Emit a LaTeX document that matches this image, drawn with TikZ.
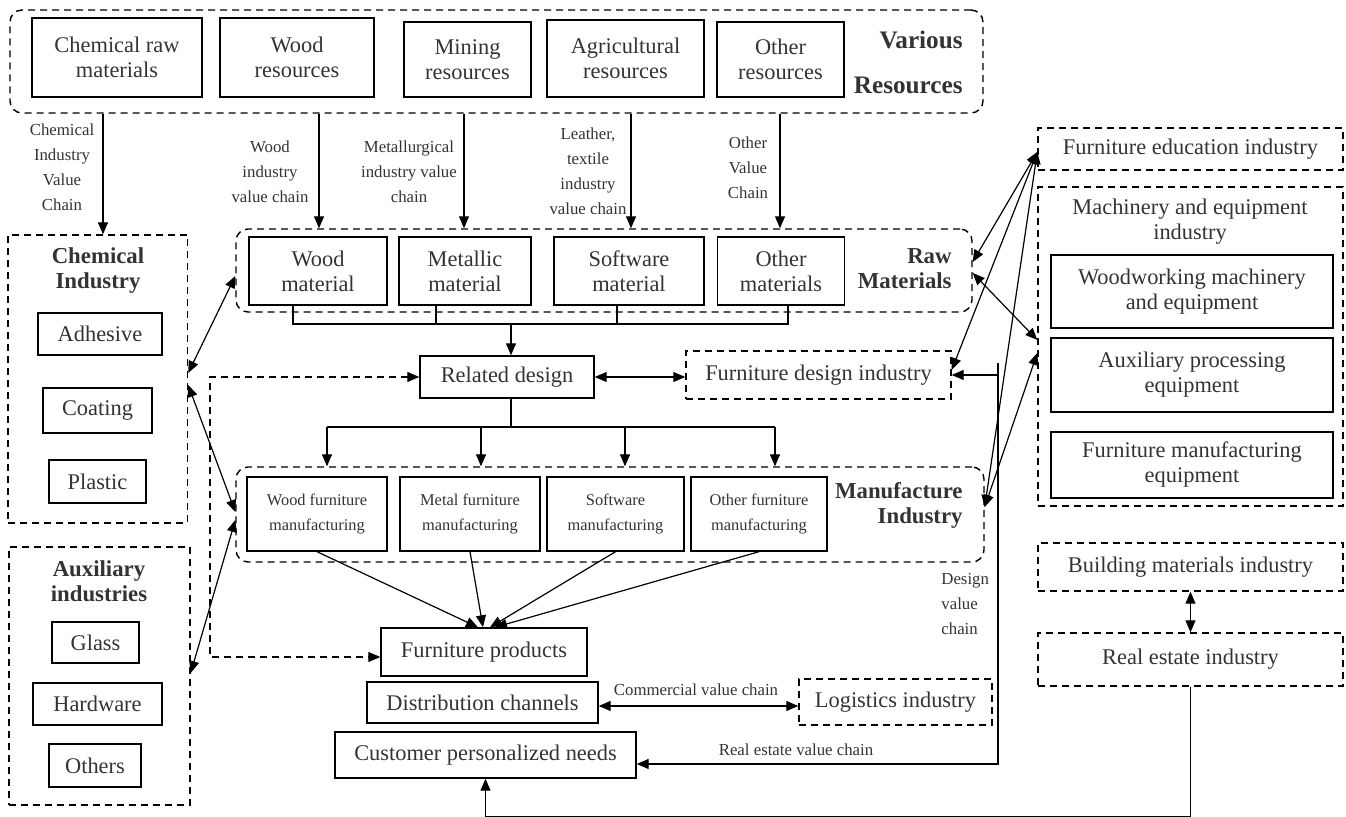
\documentclass[tikz,border=0pt]{standalone}
\usepackage{fontspec}
\setmainfont{Liberation Serif}
\usetikzlibrary{arrows.meta}

\begin{document}
\begin{tikzpicture}[x=0.5pt,y=-0.5pt,
	box/.style={draw, line width=0.7pt, align=center, inner sep=0pt, font=\fontsize{11.2}{12.5}\selectfont},
	sbox/.style={box, font=\fontsize{8.2}{12.5}\selectfont},
	dbox/.style={box, dash pattern=on 3.5pt off 2.5pt},
	group/.style={draw, line width=0.7pt, dash pattern=on 3.5pt off 2.5pt, rounded corners=6pt, inner sep=0pt},
	title/.style={font=\fontsize{11.4}{12.5}\selectfont\bfseries, inner sep=0pt},
	chain/.style={font=\fontsize{8.4}{12.5}\selectfont, align=center, inner sep=0pt},
	arr/.style={-{Triangle[length=6pt,width=5pt]}, line width=0.6pt},
	darr/.style={{Triangle[length=6pt,width=5pt]}-{Triangle[length=6pt,width=5pt]}, line width=0.6pt},
	every node/.style={text=black!80}]
	\useasboundingbox (0,0) rectangle (1346,817);

	% Various resources
	\node[group, minimum width=486.5pt, minimum height=51.5pt] (vres) at (496.5,61.5) {};
	\node[box, minimum width=85pt, minimum height=39.5pt] (chemraw) at (117,57.5) {Chemical raw\\materials};
	\node[box, minimum width=77pt, minimum height=39.5pt] (woodres) at (297,57.5) {Wood\\resources};
	\node[box, minimum width=63.5pt, minimum height=37.5pt] (minres) at (467.5,59.5) {Mining\\resources};
	\node[box, minimum width=78.5pt, minimum height=38.5pt] (agrires) at (625.5,58.5) {Agricultural\\resources};
	\node[box, minimum width=63.5pt, minimum height=37.5pt] (othres) at (780.5,59.5) {Other\\resources};
	\node[title, anchor=east, align=right, font=\fontsize{12.6}{22.5}\selectfont\bfseries] (vrestitle) at (963,62.5) {Various\\Resources};

	% Raw materials
	\node[group, minimum width=368pt, minimum height=41.5pt] (rawmat) at (604,270.5) {};
	\node[box, minimum width=69pt, minimum height=34pt] (woodmat) at (318,271) {Wood\\material};
	\node[box, minimum width=66pt, minimum height=34pt] (metmat) at (465,271) {Metallic\\material};
	\node[box, minimum width=75pt, minimum height=34pt] (softmat) at (629,271) {Software\\material};
	\node[box, minimum width=63.5pt, minimum height=34pt] (othmat) at (781,271) {Other\\materials};
	\node[title, anchor=east, align=right] (rawtitle) at (952,269) {Raw\\Materials};

	% Design
	\node[box, minimum width=87pt, minimum height=21pt] (reldes) at (507,377) {Related design};
	\node[dbox, minimum width=132.5pt, minimum height=24pt] (fdes) at (818.5,375) {Furniture design industry};

	% Manufacture industry
	\node[group, minimum width=374pt, minimum height=47.5pt] (manuf) at (610,514.5) {};
	\node[sbox, minimum width=70pt, minimum height=37pt] (woodfm) at (317,514) {Wood furniture\\manufacturing};
	\node[sbox, minimum width=70pt, minimum height=37pt] (metalfm) at (470,514) {Metal furniture\\manufacturing};
	\node[sbox, minimum width=68.5pt, minimum height=37pt] (softfm) at (615.5,514) {Software\\manufacturing};
	\node[sbox, minimum width=68pt, minimum height=37pt] (otherfm) at (759,514) {Other furniture\\manufacturing};
	\node[title, anchor=east, align=right] (manuftitle) at (963,505.5) {Manufacture\\Industry};

	% Chemical industry
	\node[dbox, minimum width=89.75pt, minimum height=144pt] (chemind) at (97.75,379) {};
	\node[title, align=center] (chemtitle) at (98,270.5) {Chemical\\Industry};
	\node[box, minimum width=62pt, minimum height=21pt] (adhesive) at (100,334) {Adhesive};
	\node[box, minimum width=54.5pt, minimum height=22.5pt] (coating) at (97.5,410.5) {Coating};
	\node[box, minimum width=48.5pt, minimum height=21.5pt] (plastic) at (97.5,481.5) {Plastic};

	% Auxiliary industries
	\node[dbox, minimum width=90.5pt, minimum height=129pt] (auxind) at (99.5,676) {};
	\node[title, align=center] (auxtitle) at (99,581.5) {Auxiliary\\industries};
	\node[box, minimum width=43.5pt, minimum height=20.5pt] (glass) at (95.5,642.5) {Glass};
	\node[box, minimum width=64.5pt, minimum height=21pt] (hardware) at (97.5,704) {Hardware};
	\node[box, minimum width=46pt, minimum height=21.5pt] (others) at (95,765.5) {Others};

	% Products and market
	\node[box, minimum width=103pt, minimum height=24pt] (furnprod) at (484,652) {Furniture products};
	\node[box, minimum width=115.5pt, minimum height=20.5pt] (distr) at (482.5,702.5) {Distribution channels};
	\node[box, minimum width=150.5pt, minimum height=23pt] (cust) at (485.5,755) {Customer personalized needs};
	\node[dbox, minimum width=96.5pt, minimum height=23pt] (logi) at (895.5,702) {Logistics industry};

	% Related industries on the right
	\node[dbox, minimum width=152.5pt, minimum height=21pt] (educ) at (1190.5,149) {Furniture education industry};
	\node[dbox, minimum width=152.5pt, minimum height=159.5pt] (mach) at (1190.5,346.5) {};
	\node[align=center, font=\fontsize{11.2}{12.5}\selectfont, inner sep=0pt] (machtitle) at (1190,222) {Machinery and equipment\\industry};
	\node[box, minimum width=141pt, minimum height=36.5pt] (woodmach) at (1192,291.5) {Woodworking machinery\\and equipment};
	\node[box, minimum width=141pt, minimum height=37pt] (auxproc) at (1192,375) {Auxiliary processing\\equipment};
	\node[box, minimum width=141pt, minimum height=33pt] (furnequip) at (1192,465) {Furniture manufacturing\\equipment};
	\node[dbox, minimum width=152.5pt, minimum height=24pt] (build) at (1190.5,567) {Building materials industry};
	\node[dbox, minimum width=152.5pt, minimum height=26.5pt] (realest) at (1190.5,659.5) {Real estate industry};

	% Value chains from the resources
	\draw[arr] (vres.south -| 103,0) -- (chemind.north -| 103,0);
	\draw[arr] (vres.south -| 319,0) -- (rawmat.north -| 319,0);
	\draw[arr] (vres.south -| 464,0) -- (rawmat.north -| 464,0);
	\draw[arr] (vres.south -| 631,0) -- (rawmat.north -| 631,0);
	\draw[arr] (vres.south -| 780,0) -- (rawmat.north -| 780,0);
	\node[chain] at (62,167) {Chemical\\Industry\\Value\\Chain};
	\node[chain] at (270,172) {Wood\\industry\\value chain};
	\node[chain] at (409,172) {Metallurgical\\industry value\\chain};
	\node[chain] at (588,171.5) {Leather,\\textile\\industry\\value chain};
	\node[chain] at (748,167.5) {Other\\Value\\Chain};

	% Materials to design
	\coordinate (bus) at (511,324);
	\draw[line width=0.6pt] (woodmat.south -| 293,0) -- (bus -| 293,0) -- (bus -| 788,0) -- (othmat.south -| 788,0);
	\draw[line width=0.6pt] (metmat.south -| 436,0) -- (bus -| 436,0);
	\draw[line width=0.6pt] (softmat.south -| 617,0) -- (bus -| 617,0);
	\draw[arr] (bus) -- (reldes.north -| bus);
	\draw[darr] (reldes.east) -- (fdes.west |- reldes.east);

	% Design to manufacture
	\coordinate (bus2) at (511,427);
	\draw[line width=0.6pt] (reldes.south -| bus2) -- (bus2);
	\draw[line width=0.6pt] (bus2 -| 327,0) -- (bus2 -| 775,0);
	\foreach \x in {327,481,625,775}
		\draw[arr] (bus2 -| \x,0) -- (manuf.north -| \x,0);

	% Manufacture to products
	\draw[arr] (woodfm.south) -- (furnprod.north -| 478,0);
	\draw[arr] (metalfm.south) -- (furnprod.north -| 483,0);
	\draw[arr] (softfm.south) -- (furnprod.north -| 490,0);
	\draw[arr] (otherfm.south) -- (furnprod.north -| 495,0);

	% Left side links
	\coordinate (dl) at (210,657);
	\draw[darr, dash pattern=on 3.5pt off 2.5pt] (reldes.west) -| (dl) -- (furnprod.west |- dl);
	\draw[darr] (chemind.east |- 0,373) -- (rawmat.west |- 0,276);
	\draw[darr] (chemind.east |- 0,385) -- (manuf.west |- 0,512);
	\draw[darr] (auxind.east |- 0,673) -- (manuf.west |- 0,520);

	% Right side links
	\draw[darr] (educ.west |- 0,152) -- (rawmat.east |- 0,262);
	\draw[darr] (educ.west |- 0,152) -- (fdes.east |- 0,370);
	\draw[darr] (educ.west |- 0,152) -- (manuf.east |- 0,507);
	\draw[darr] (mach.west |- 0,340) -- (rawmat.east |- 0,273);
	\draw[darr] (mach.west |- 0,353) -- (manuf.east |- 0,507);

	% Commercial value chain
	\draw[darr] (distr.east |- 0,706) -- (logi.west |- 0,706);
	\node[chain] at (696,690) {Commercial value chain};

	% Design and real estate value chains
	\coordinate (dv) at (998,363);
	\draw[arr] (dv) -- (dv |- 0,764) -- (cust.east |- 0,764);
	\draw[arr] (dv |- fdes.east) -- (fdes.east);
	\node[chain, anchor=west, align=left] at (941,604.5) {Design\\value\\chain};
	\node[chain] at (796,750) {Real estate value chain};
	\draw[arr] (realest.south) -- ++(0,130) -| (cust.south);
	\draw[darr] (build.south) -- (realest.north);
\end{tikzpicture}
\end{document}
